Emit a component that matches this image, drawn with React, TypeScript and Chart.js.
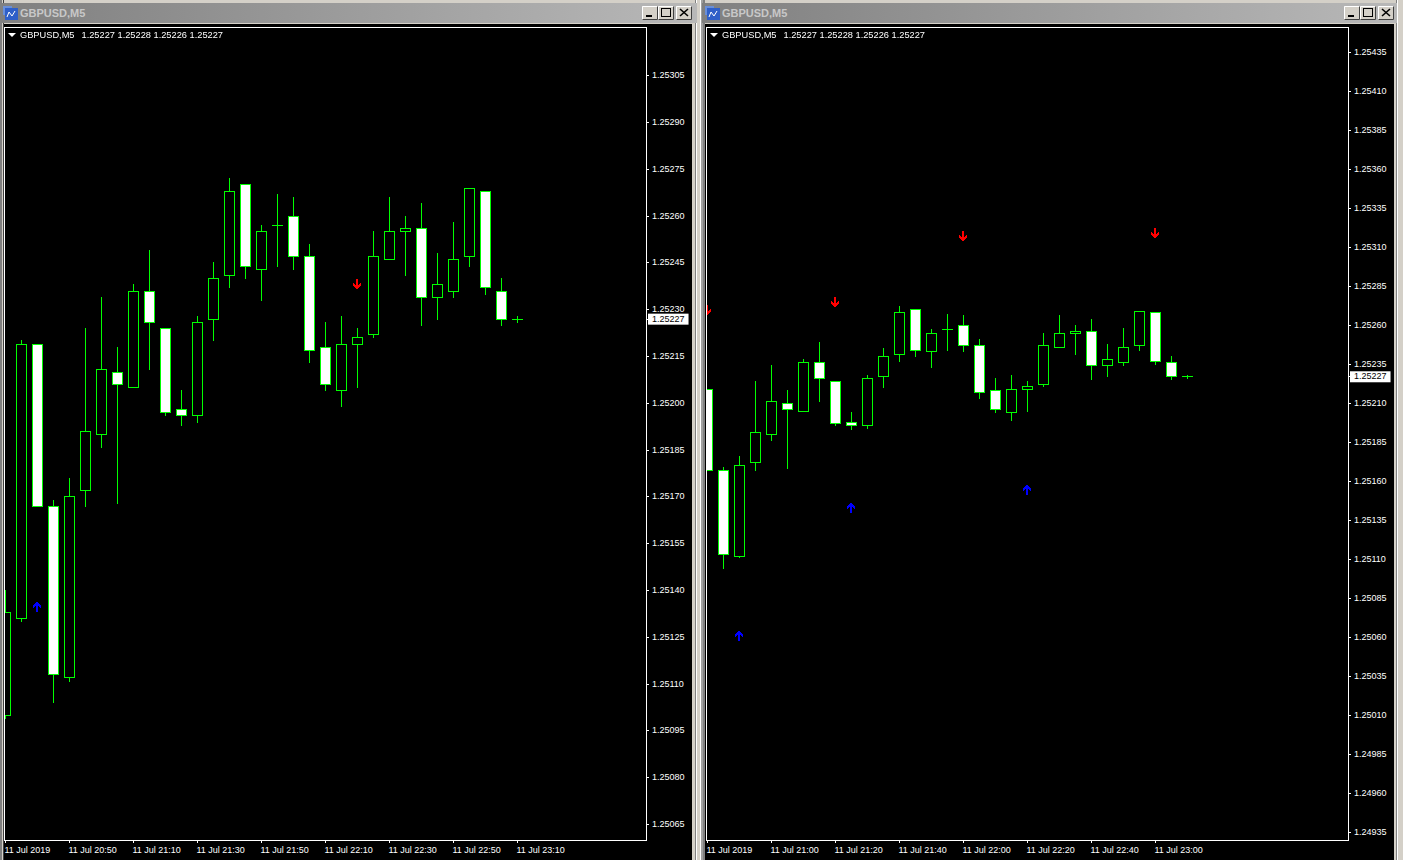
import React, { useEffect, useRef } from "react";
import { Chart, registerables } from "chart.js";

Chart.register(...registerables);

const opens = [1.251, 1.25131, 1.25219, 1.25167, 1.25112, 1.25172, 1.2519, 1.2521, 1.25205, 1.25236, 1.25224, 1.25198, 1.25196, 1.25227, 1.25241, 1.2527, 1.25243, 1.25257, 1.2526, 1.25247, 1.25218, 1.25204, 1.25219, 1.25222, 1.25246, 1.25255, 1.25256, 1.25234, 1.25236, 1.25247, 1.25268, 1.25236, 1.25227];
const highs = [1.2514, 1.2522, 1.25219, 1.25169, 1.25176, 1.25224, 1.25234, 1.25218, 1.25238, 1.25249, 1.25224, 1.25204, 1.25228, 1.25245, 1.25272, 1.2527, 1.25257, 1.25267, 1.25266, 1.25251, 1.25226, 1.25228, 1.25224, 1.25255, 1.25266, 1.2526, 1.25264, 1.25248, 1.25258, 1.25269, 1.25268, 1.2524, 1.25228];
const lows = [1.25099, 1.2513, 1.25167, 1.25104, 1.25111, 1.25167, 1.25186, 1.25168, 1.25205, 1.25211, 1.25196, 1.25193, 1.25194, 1.2522, 1.25237, 1.2524, 1.25233, 1.25244, 1.25243, 1.25213, 1.25204, 1.25199, 1.25205, 1.25221, 1.25246, 1.25241, 1.25225, 1.25227, 1.25234, 1.25244, 1.25235, 1.25225, 1.25226];
const closes = [1.25133, 1.25219, 1.25167, 1.25113, 1.2517, 1.25191, 1.25211, 1.25206, 1.25236, 1.25226, 1.25197, 1.25196, 1.25226, 1.2524, 1.25268, 1.25244, 1.25255, 1.25257, 1.25247, 1.25217, 1.25206, 1.25219, 1.25221, 1.25247, 1.25255, 1.25256, 1.25234, 1.25238, 1.25246, 1.25269, 1.25237, 1.25227, 1.25227];

const bidPrice = 1.25227;

const leftPriceTicks = [1.25305, 1.2529, 1.25275, 1.2526, 1.25245, 1.2523, 1.25215, 1.252, 1.25185, 1.2517, 1.25155, 1.2514, 1.25125, 1.2511, 1.25095, 1.2508, 1.25065];
const rightPriceTicks = [1.25435, 1.2541, 1.25385, 1.2536, 1.25335, 1.2531, 1.25285, 1.2526, 1.25235, 1.2521, 1.25185, 1.2516, 1.25135, 1.2511, 1.25085, 1.2506, 1.25035, 1.2501, 1.24985, 1.2496, 1.24935];

const leftTimeBars = [0, 4, 8, 12, 16, 20, 24, 28, 32];
const leftTimeLabels = ["11 Jul 2019", "11 Jul 20:50", "11 Jul 21:10", "11 Jul 21:30", "11 Jul 21:50", "11 Jul 22:10", "11 Jul 22:30", "11 Jul 22:50", "11 Jul 23:10"];
const rightTimeBars = [0, 4, 8, 12, 16, 20, 24, 28];
const rightTimeLabels = ["11 Jul 2019", "11 Jul 21:00", "11 Jul 21:20", "11 Jul 21:40", "11 Jul 22:00", "11 Jul 22:20", "11 Jul 22:40", "11 Jul 23:00"];

const leftUpArrowBars = [2];
const leftUpArrowPrices = [1.251347];
const leftDownArrowBars = [22];
const leftDownArrowPrices = [1.2523827];
const rightUpArrowBars = [2, 9, 20];
const rightUpArrowPrices = [1.250608, 1.251429, 1.251544];
const rightDownArrowBars = [0, 8, 16, 28];
const rightDownArrowPrices = [1.252698, 1.252749, 1.253172, 1.253192];

const LEGEND_NAME = "GBPUSD,M5";
const LEGEND_PRICES = "1.25227 1.25228 1.25226 1.25227";
const TITLE = "GBPUSD,M5";
const FONT = '"Liberation Sans", Arial, sans-serif';
const GREEN = "#00ff00";

const ARROW_DOWN = ["...XX...", "...XX...", "...XX...", "...XX...", "X..XX..X", "XX.XX.XX", "XXXXXXXX", ".XXXXXX.", "..XXXX..", "...XX..."];

function arrowImage(color: string, up: boolean) {
  const c = document.createElement("canvas");
  c.width = 8;
  c.height = 10;
  const g = c.getContext("2d")!;
  g.fillStyle = color;
  const rows = up ? [...ARROW_DOWN].reverse() : ARROW_DOWN;
  rows.forEach((r, y) => r.split("").forEach((ch, x) => { if (ch === "X") g.fillRect(x, y, 1, 1); }));
  return c;
}

const snapPlugin = {
  id: "snap",
  afterDatasetsUpdate(chart: any) {
    chart.getSortedVisibleDatasetMetas().forEach((meta: any) => {
      meta.data.forEach((el: any) => {
        if (meta.type === "bar") {
          const top = Math.min(el.y, el.base);
          const bottom = Math.max(el.y, el.base);
          el.y = Math.floor(top);
          el.base = Math.floor(bottom) + 1;
        } else {
          el.x = Math.floor(el.x);
          el.y = Math.round(el.y);
        }
      });
    });
  },
};

const framePlugin = {
  id: "frame",
  afterDraw(chart: any) {
    const { left, top, right, bottom } = chart.chartArea;
    const g = chart.ctx;
    g.save();
    g.strokeStyle = "#ffffff";
    g.lineWidth = 1;
    g.strokeRect(left - 0.5, top - 0.5, right - left + 1, bottom - top + 1);
    g.restore();
  },
};

type PaneProps = {
  canvasLeft: number;
  canvasWidth: number;
  padLeft: number;
  firstBar: number;
  yMin: number;
  yMax: number;
  priceTicks: number[];
  timeBars: number[];
  timeLabels: string[];
  upBars: number[];
  upPrices: number[];
  downBars: number[];
  downPrices: number[];
};

function Pane(p: PaneProps) {
  const ref = useRef<HTMLCanvasElement>(null);
  useEffect(() => {
    const canvas = ref.current!;
    const ctx = canvas.getContext("2d", { alpha: false })!;
    const shown = opens.map((_, i) => i).filter((i) => i >= p.firstBar);
    const pts = (bars: number[], prices: number[]) => bars.map((x, i) => ({ x, y: prices[i] }));
    const chart = new Chart(ctx, {
      type: "bar",
      data: {
        datasets: [
          { type: "scatter", data: pts(p.upBars, p.upPrices) as any, pointStyle: arrowImage("#0000ff", true) as any, pointRadius: 4 },
          { type: "scatter", data: pts(p.downBars, p.downPrices) as any, pointStyle: arrowImage("#ff0000", false) as any, pointRadius: 4 },
          {
            type: "bar",
            data: shown.map((i) => ({ x: i - p.firstBar, y: [Math.min(opens[i], closes[i]), Math.max(opens[i], closes[i])] })) as any,
            backgroundColor: shown.map((i) => (closes[i] < opens[i] ? "#ffffff" : "#000000")),
            borderColor: GREEN,
            borderWidth: 1,
            borderSkipped: false,
            inflateAmount: 0,
            barThickness: 11,
            grouped: false,
          } as any,
          {
            type: "bar",
            data: shown.map((i) => ({ x: i - p.firstBar, y: [lows[i], highs[i]] })) as any,
            backgroundColor: GREEN,
            borderWidth: 0,
            inflateAmount: 0,
            barThickness: 1,
            grouped: false,
          } as any,
        ],
      },
      options: {
        animation: false,
        responsive: false,
        devicePixelRatio: 1,
        events: [],
        layout: { autoPadding: false, padding: { left: p.padLeft, top: 4, right: 0, bottom: 0 } },
        plugins: { legend: { display: false }, tooltip: { enabled: false } },
        scales: {
          x: {
            type: "linear",
            offset: false,
            min: -0.03125,
            max: 40.03125,
            border: { display: false },
            grid: { drawOnChartArea: false, drawTicks: true, tickLength: 3, tickColor: "#ffffff", offset: false },
            afterFit: (s: any) => { s.height = 20; s.paddingLeft = 0; s.paddingRight = 0; s.paddingTop = 0; s.paddingBottom = 0; },
            afterBuildTicks: (s: any) => { s.ticks = p.timeBars.map((value) => ({ value })); },
            ticks: {
              autoSkip: false,
              maxRotation: 0,
              minRotation: 0,
              align: "start",
              padding: 2,
              labelOffset: -1,
              color: "#ffffff",
              font: { family: FONT, size: 9 },
              callback: (v: any) => p.timeLabels[p.timeBars.indexOf(Number(v))] ?? "",
            },
          } as any,
          y: {
            type: "linear",
            position: "right",
            min: p.yMin,
            max: p.yMax,
            border: { display: false },
            grid: { drawOnChartArea: false, drawTicks: true, tickLength: 3, tickColor: "#ffffff" },
            afterFit: (s: any) => { s.width = 46; s.paddingLeft = 0; s.paddingRight = 0; s.paddingTop = 0; s.paddingBottom = 0; },
            afterBuildTicks: (s: any) => { s.ticks = [...p.priceTicks, bidPrice].map((value) => ({ value })); },
            ticks: {
              autoSkip: false,
              padding: 3,
              color: (c: any) => (c.tick.value === bidPrice ? "#000000" : "#ffffff"),
              showLabelBackdrop: (c: any) => c.tick.value === bidPrice,
              backdropColor: "#ffffff",
              backdropPadding: { left: 4, right: 4, top: 1, bottom: 1 },
              font: { family: FONT, size: 9, lineHeight: 1 },
              callback: (v: any) => Number(v).toFixed(5),
            },
          } as any,
        },
      },
      plugins: [snapPlugin, framePlugin],
    } as any);
    return () => chart.destroy();
  }, []);
  return (
    <canvas
      ref={ref}
      width={p.canvasWidth}
      height={836}
      style={{ position: "absolute", left: p.canvasLeft, top: 24, width: p.canvasWidth, height: 836, background: "#000" }}
    />
  );
}

function Button({ left, glyph }: { left: number; glyph: string }) {
  return (
    <svg width={16} height={14} style={{ position: "absolute", left, top: 6, background: "#d4d0c8" }}>
      <path d="M0.5 13.5V0.5H15.5" stroke="#ffffff" fill="none" />
      <path d="M0.5 13.5H15.5V0.5" stroke="#404040" fill="none" />
      {glyph === "min" && <rect x={4} y={9} width={6} height={2} fill="#000" />}
      {glyph === "max" && <rect x={3.5} y={2.5} width={9} height={8} stroke="#000" fill="none" strokeWidth={1} />}
      {glyph === "close" && <path d="M4 3L12 10M12 3L4 10" stroke="#000" strokeWidth={1.6} />}
    </svg>
  );
}

function Chrome({ left, width, btn }: { left: number; width: number; btn: number[] }) {
  return (
    <>
      <div style={{ position: "absolute", left, top: 3, width, height: 20, background: "linear-gradient(90deg,#808080,#b8b8b8)" }} />
      <svg width={15} height={14} style={{ position: "absolute", left: left + 3, top: 6 }}>
        <rect x={0} y={0} width={9} height={9} fill="#6a8fd8" />
        <rect x={2} y={2} width={13} height={12} fill="#2f5fc8" />
        <path d="M4 11L6 6L9 10L12 5" stroke="#ffffff" fill="none" />
      </svg>
      <div style={{ position: "absolute", left: left + 20, top: 6, font: `bold 11px ${FONT}`, color: "#c8c8c8", lineHeight: "14px" }}>{TITLE}</div>
      <Button left={btn[0]} glyph="min" />
      <Button left={btn[1]} glyph="max" />
      <Button left={btn[2]} glyph="close" />
    </>
  );
}

function Legend({ left }: { left: number }) {
  const text = { position: "absolute" as const, top: 30, font: `9.25px ${FONT}`, color: "#fff", lineHeight: "11px", whiteSpace: "pre" as const };
  return (
    <>
      <div style={{ position: "absolute", left: left + 8, top: 33, width: 0, height: 0, borderLeft: "4px solid transparent", borderRight: "4px solid transparent", borderTop: "4px solid #fff" }} />
      <div style={{ ...text, left: left + 20 }}>{LEGEND_NAME}</div>
      <div style={{ ...text, left: left + 81.5 }}>{LEGEND_PRICES}</div>
    </>
  );
}

export default function App() {
  return (
    <div style={{ position: "relative", width: 1403, height: 860, overflow: "hidden", background: "#d4d0c8" }}>
      <style>{"html,body{margin:0;padding:0;overflow:hidden}"}</style>
      <div style={{ position: "absolute", left: 0, top: 0, width: 4, height: 860, background: "linear-gradient(90deg,#808080 0 2px,#d4d0c8 2px 3px,#404040 3px 4px)" }} />
      <div style={{ position: "absolute", left: 692, top: 0, width: 13, height: 860, background: "linear-gradient(90deg,#d4d0c8 0 3px,#808080 3px 4px,#ffffff 4px 5px,#d4d0c8 5px 8px,#ffffff 8px 9px,#a0a0a0 9px 11px,#808080 11px 13px)" }} />
      <div style={{ position: "absolute", left: 1394, top: 0, width: 9, height: 860, background: "linear-gradient(90deg,#d4d0c8 0 2px,#808080 2px 3px,#ffffff 3px 4px,#d4d0c8 4px 9px)" }} />
      <Chrome left={0} width={697} btn={[642, 658, 676]} />
      <Chrome left={702} width={695} btn={[1344, 1360, 1378]} />
      <Pane
        canvasLeft={4}
        canvasWidth={688}
        padLeft={1}
        firstBar={0}
        yMin={1.2506006}
        yMax={1.2532032}
        priceTicks={leftPriceTicks}
        timeBars={leftTimeBars}
        timeLabels={leftTimeLabels}
        upBars={leftUpArrowBars}
        upPrices={leftUpArrowPrices}
        downBars={leftDownArrowBars}
        downPrices={leftDownArrowPrices}
      />
      <Pane
        canvasLeft={705}
        canvasWidth={689}
        padLeft={2}
        firstBar={2}
        yMin={1.2493006}
        yMax={1.2545058}
        priceTicks={rightPriceTicks}
        timeBars={rightTimeBars}
        timeLabels={rightTimeLabels}
        upBars={rightUpArrowBars}
        upPrices={rightUpArrowPrices}
        downBars={rightDownArrowBars}
        downPrices={rightDownArrowPrices}
      />
      <Legend left={0} />
      <Legend left={702} />
    </div>
  );
}
